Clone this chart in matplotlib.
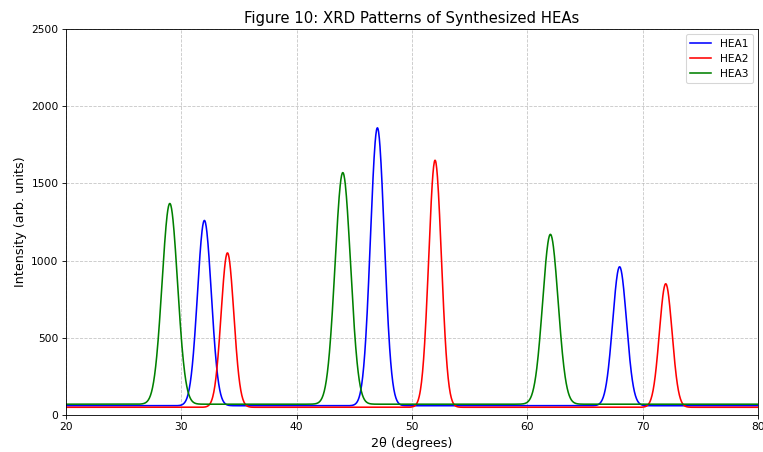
import numpy as np
import matplotlib
matplotlib.use("Agg")
import matplotlib.pyplot as plt

# peak data (2theta, height above background)
samples = ["HEA1", "HEA2", "HEA3"]
colors = ["blue", "red", "green"]

hea1_pos = [32, 47, 68]
hea1_height = [1200, 1800, 900]
hea2_pos = [34, 52, 72]
hea2_height = [1000, 1600, 800]
hea3_pos = [29, 44, 62]
hea3_height = [1300, 1500, 1100]

background = [60, 50, 70]
peak_width = [0.6, 0.55, 0.67]

positions = [hea1_pos, hea2_pos, hea3_pos]
heights = [hea1_height, hea2_height, hea3_height]

two_theta = np.linspace(20, 80, 2000)


def pattern(pos, height, bg, w):
    y = np.full_like(two_theta, bg, dtype=float)
    for p, h in zip(pos, height):
        y += h * np.exp(-0.5 * ((two_theta - p) / w) ** 2)
    return y


fig = plt.figure(figsize=(10, 452 / 76.3), dpi=76.3)
ax = fig.add_axes([66 / 763, 1 - 415 / 452, (758 - 66) / 763, (415 - 29) / 452])

for i, name in enumerate(samples):
    y = pattern(positions[i], heights[i], background[i], peak_width[i])
    ax.plot(two_theta, y, color=colors[i], label=name, linewidth=1.5)

ax.set_xlim(20, 80)
ax.set_ylim(0, 2500)
ax.set_xlabel("2θ (degrees)", fontsize=12)
ax.set_ylabel("Intensity (arb. units)", fontsize=12)
ax.set_title("Figure 10: XRD Patterns of Synthesized HEAs", fontsize=14)
ax.grid(True, linestyle="--", alpha=0.7)
ax.legend(loc="upper right")

fig.savefig("out.png", dpi=76.3)
